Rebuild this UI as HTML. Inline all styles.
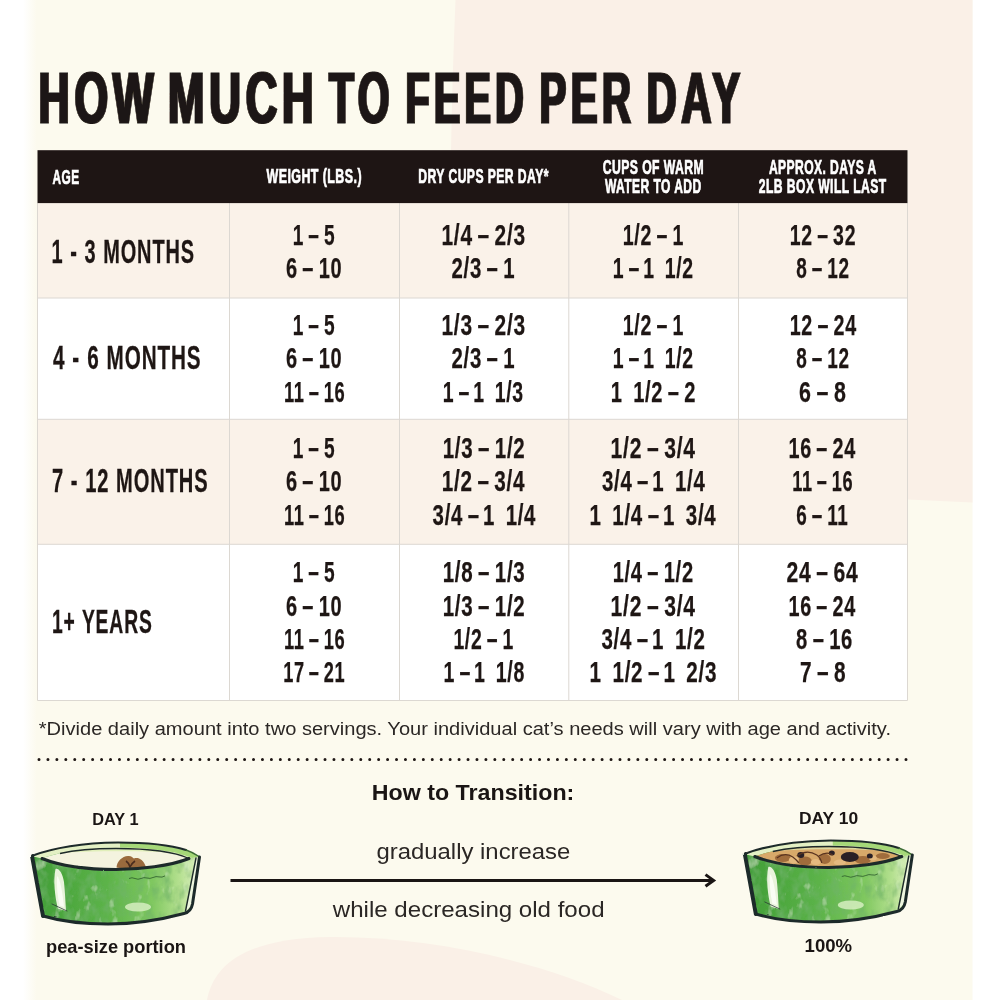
<!DOCTYPE html>
<html lang="en"><head><meta charset="utf-8"><title>How much to feed per day</title>
<style>html,body{margin:0;padding:0;background:#fff}body{width:1000px;height:1000px;overflow:hidden}svg{display:block}text{font-family:"Liberation Sans",sans-serif}</style>
</head><body>
<svg width="1000" height="1000" viewBox="0 0 1000 1000" role="img" aria-label="How much to feed per day feeding chart">
<defs>
<filter id="fat2" x="-5%" y="-10%" width="110%" height="120%"><feMorphology operator="dilate" radius="1 0"/></filter>
<filter id="fat0" x="-5%" y="-10%" width="110%" height="120%"><feOffset dx="0"/></filter>
<filter id="fat1" x="-5%" y="-10%" width="110%" height="120%"><feOffset dx="1" result="a"/><feMerge><feMergeNode in="a"/><feMergeNode in="SourceGraphic"/></feMerge></filter>
<linearGradient id="ledge" x1="0" x2="1" y1="0" y2="0"><stop offset="0" stop-color="#ffffff"/><stop offset="1" stop-color="#fcfaee"/></linearGradient>
</defs>
<!-- page background -->
<rect x="0" y="0" width="1000" height="1000" fill="#ffffff"/>
<rect x="36" y="0" width="936.5" height="1000" fill="#fcfaee"/>
<rect x="23" y="0" width="13.5" height="1000" fill="url(#ledge)"/>
<!-- pink blobs -->
<path d="M455.5,0 L972.5,0 L972.5,502.5 Q940,501 908,499.5 L908,150 L451,150 Q452.5,70 455.5,0 Z" fill="#faf0e7"/>
<path d="M207,1000 C214,962 250,938 330,937 C430,936 545,962 622,1000 Z" fill="#faf0e7"/>
<!-- table -->
<rect x="37.5" y="203" width="870" height="497.5" fill="#ffffff"/>
<rect x="37.5" y="203" width="870" height="95" fill="#faf2e9"/>
<rect x="37.5" y="419.3" width="870" height="124.9" fill="#faf2e9"/>
<g stroke="#dcd8d2" stroke-width="1" fill="none">
<path d="M37.5,203 V700.5 M229.5,203 V700.5 M399.5,203 V700.5 M568.8,203 V700.5 M738.5,203 V700.5 M907.5,203 V700.5"/>
<path d="M37.5,298 H907.5 M37.5,419.3 H907.5 M37.5,544.3 H907.5 M37.5,700.5 H907.5"/>
</g>
<rect x="37.5" y="150.2" width="870" height="52.9" fill="#1e1514"/>
<!-- dotted rule -->
<line x1="39" y1="759.4" x2="907" y2="759.4" stroke="#1e1614" stroke-width="3" stroke-linecap="round" stroke-dasharray="0 8.938"/>
<!-- arrow -->
<path d="M230.5,880.4 H713" stroke="#1a1514" stroke-width="3" fill="none"/>
<path d="M705.5,874.6 L713.6,880.4 L705.5,886.2" stroke="#1a1514" stroke-width="3" fill="none" stroke-linejoin="miter"/>

<text xml:space="preserve" x="38.50" y="122.80" font-family="Liberation Sans" font-weight="700" font-size="72.4" fill="#1e1614" letter-spacing="8" stroke="#1e1614" stroke-width="0.8" stroke-linejoin="miter" filter="url(#fat2)" textLength="119.92" lengthAdjust="spacingAndGlyphs">HOW</text>
<text xml:space="preserve" x="168.00" y="122.80" font-family="Liberation Sans" font-weight="700" font-size="72.4" fill="#1e1614" letter-spacing="8" stroke="#1e1614" stroke-width="0.8" stroke-linejoin="miter" filter="url(#fat2)" textLength="150.54" lengthAdjust="spacingAndGlyphs">MUCH</text>
<text xml:space="preserve" x="329.10" y="122.80" font-family="Liberation Sans" font-weight="700" font-size="72.4" fill="#1e1614" letter-spacing="8" stroke="#1e1614" stroke-width="0.8" stroke-linejoin="miter" filter="url(#fat2)" textLength="64.95" lengthAdjust="spacingAndGlyphs">TO</text>
<text xml:space="preserve" x="405.50" y="122.80" font-family="Liberation Sans" font-weight="700" font-size="72.4" fill="#1e1614" letter-spacing="8" stroke="#1e1614" stroke-width="0.8" stroke-linejoin="miter" filter="url(#fat2)" textLength="122.53" lengthAdjust="spacingAndGlyphs">FEED</text>
<text xml:space="preserve" x="539.50" y="122.80" font-family="Liberation Sans" font-weight="700" font-size="72.4" fill="#1e1614" letter-spacing="8" stroke="#1e1614" stroke-width="0.8" stroke-linejoin="miter" filter="url(#fat2)" textLength="95.85" lengthAdjust="spacingAndGlyphs">PER</text>
<text xml:space="preserve" x="646.50" y="122.80" font-family="Liberation Sans" font-weight="700" font-size="72.4" fill="#1e1614" letter-spacing="8" stroke="#1e1614" stroke-width="0.8" stroke-linejoin="miter" filter="url(#fat2)" textLength="98.18" lengthAdjust="spacingAndGlyphs">DAY</text>
<text xml:space="preserve" x="52.60" y="183.50" font-family="Liberation Sans" font-weight="700" font-size="19.9" fill="#ffffff" letter-spacing="0.7" stroke="#ffffff" stroke-width="0.7" stroke-linejoin="miter" filter="url(#fat0)" textLength="26.93" lengthAdjust="spacingAndGlyphs">AGE</text>
<text xml:space="preserve" x="266.50" y="183.40" font-family="Liberation Sans" font-weight="700" font-size="19.9" fill="#ffffff" letter-spacing="0.7" stroke="#ffffff" stroke-width="0.7" stroke-linejoin="miter" filter="url(#fat0)" textLength="95.46" lengthAdjust="spacingAndGlyphs">WEIGHT (LBS.)</text>
<text xml:space="preserve" x="418.30" y="183.40" font-family="Liberation Sans" font-weight="700" font-size="19.9" fill="#ffffff" letter-spacing="0.7" stroke="#ffffff" stroke-width="0.7" stroke-linejoin="miter" filter="url(#fat0)" textLength="130.59" lengthAdjust="spacingAndGlyphs">DRY CUPS PER DAY*</text>
<text xml:space="preserve" x="602.80" y="173.50" font-family="Liberation Sans" font-weight="700" font-size="19.9" fill="#ffffff" letter-spacing="0.7" stroke="#ffffff" stroke-width="0.7" stroke-linejoin="miter" filter="url(#fat0)" textLength="101.31" lengthAdjust="spacingAndGlyphs">CUPS OF WARM</text>
<text xml:space="preserve" x="604.90" y="192.70" font-family="Liberation Sans" font-weight="700" font-size="19.9" fill="#ffffff" letter-spacing="0.7" stroke="#ffffff" stroke-width="0.7" stroke-linejoin="miter" filter="url(#fat0)" textLength="96.67" lengthAdjust="spacingAndGlyphs">WATER TO ADD</text>
<text xml:space="preserve" x="768.90" y="173.50" font-family="Liberation Sans" font-weight="700" font-size="19.9" fill="#ffffff" letter-spacing="0.7" stroke="#ffffff" stroke-width="0.7" stroke-linejoin="miter" filter="url(#fat0)" textLength="107.88" lengthAdjust="spacingAndGlyphs">APPROX. DAYS A</text>
<text xml:space="preserve" x="758.80" y="192.70" font-family="Liberation Sans" font-weight="700" font-size="19.9" fill="#ffffff" letter-spacing="0.7" stroke="#ffffff" stroke-width="0.7" stroke-linejoin="miter" filter="url(#fat0)" textLength="127.81" lengthAdjust="spacingAndGlyphs">2LB BOX WILL LAST</text>
<text xml:space="preserve" x="51.50" y="262.50" font-family="Liberation Sans" font-weight="700" font-size="33.9" fill="#1e1614" letter-spacing="1.5" word-spacing="0.5" stroke="#1e1614" stroke-width="0.3" stroke-linejoin="miter" filter="url(#fat0)" textLength="143.46" lengthAdjust="spacingAndGlyphs">1 - 3 MONTHS</text>
<text xml:space="preserve" x="53.00" y="368.60" font-family="Liberation Sans" font-weight="700" font-size="33.9" fill="#1e1614" letter-spacing="1.5" word-spacing="0.5" stroke="#1e1614" stroke-width="0.3" stroke-linejoin="miter" filter="url(#fat0)" textLength="148.58" lengthAdjust="spacingAndGlyphs">4 - 6 MONTHS</text>
<text xml:space="preserve" x="52.00" y="491.60" font-family="Liberation Sans" font-weight="700" font-size="33.9" fill="#1e1614" letter-spacing="1.5" word-spacing="0.5" stroke="#1e1614" stroke-width="0.3" stroke-linejoin="miter" filter="url(#fat0)" textLength="156.54" lengthAdjust="spacingAndGlyphs">7 - 12 MONTHS</text>
<text xml:space="preserve" x="52.00" y="632.60" font-family="Liberation Sans" font-weight="700" font-size="33.9" fill="#1e1614" letter-spacing="1.5" word-spacing="0.5" stroke="#1e1614" stroke-width="0.3" stroke-linejoin="miter" filter="url(#fat0)" textLength="100.69" lengthAdjust="spacingAndGlyphs">1+ YEARS</text>
<text xml:space="preserve" x="292.75" y="245.00" font-family="Liberation Sans" font-weight="700" font-size="28.8" fill="#1e1614" letter-spacing="1" stroke="#1e1614" stroke-width="0.25" stroke-linejoin="miter" filter="url(#fat0)" dx="0 0 -2.5 0 -2.5" textLength="42.51" lengthAdjust="spacingAndGlyphs">1 – 5</text>
<text xml:space="preserve" x="286.00" y="278.00" font-family="Liberation Sans" font-weight="700" font-size="28.8" fill="#1e1614" letter-spacing="1" stroke="#1e1614" stroke-width="0.25" stroke-linejoin="miter" filter="url(#fat0)" dx="0 0 -2.5 0 -2.5 0" textLength="56.28" lengthAdjust="spacingAndGlyphs">6 – 10</text>
<text xml:space="preserve" x="292.75" y="335.00" font-family="Liberation Sans" font-weight="700" font-size="28.8" fill="#1e1614" letter-spacing="1" stroke="#1e1614" stroke-width="0.25" stroke-linejoin="miter" filter="url(#fat0)" dx="0 0 -2.5 0 -2.5" textLength="42.51" lengthAdjust="spacingAndGlyphs">1 – 5</text>
<text xml:space="preserve" x="286.00" y="368.00" font-family="Liberation Sans" font-weight="700" font-size="28.8" fill="#1e1614" letter-spacing="1" stroke="#1e1614" stroke-width="0.25" stroke-linejoin="miter" filter="url(#fat0)" dx="0 0 -2.5 0 -2.5 0" textLength="56.28" lengthAdjust="spacingAndGlyphs">6 – 10</text>
<text xml:space="preserve" x="284.00" y="401.50" font-family="Liberation Sans" font-weight="700" font-size="28.8" fill="#1e1614" letter-spacing="1" stroke="#1e1614" stroke-width="0.25" stroke-linejoin="miter" filter="url(#fat0)" dx="0 0 0 -2.5 0 -2.5 0" textLength="61.40" lengthAdjust="spacingAndGlyphs">11 – 16</text>
<text xml:space="preserve" x="292.75" y="457.50" font-family="Liberation Sans" font-weight="700" font-size="28.8" fill="#1e1614" letter-spacing="1" stroke="#1e1614" stroke-width="0.25" stroke-linejoin="miter" filter="url(#fat0)" dx="0 0 -2.5 0 -2.5" textLength="42.51" lengthAdjust="spacingAndGlyphs">1 – 5</text>
<text xml:space="preserve" x="286.00" y="491.00" font-family="Liberation Sans" font-weight="700" font-size="28.8" fill="#1e1614" letter-spacing="1" stroke="#1e1614" stroke-width="0.25" stroke-linejoin="miter" filter="url(#fat0)" dx="0 0 -2.5 0 -2.5 0" textLength="56.28" lengthAdjust="spacingAndGlyphs">6 – 10</text>
<text xml:space="preserve" x="284.00" y="525.00" font-family="Liberation Sans" font-weight="700" font-size="28.8" fill="#1e1614" letter-spacing="1" stroke="#1e1614" stroke-width="0.25" stroke-linejoin="miter" filter="url(#fat0)" dx="0 0 0 -2.5 0 -2.5 0" textLength="61.40" lengthAdjust="spacingAndGlyphs">11 – 16</text>
<text xml:space="preserve" x="292.75" y="582.00" font-family="Liberation Sans" font-weight="700" font-size="28.8" fill="#1e1614" letter-spacing="1" stroke="#1e1614" stroke-width="0.25" stroke-linejoin="miter" filter="url(#fat0)" dx="0 0 -2.5 0 -2.5" textLength="42.51" lengthAdjust="spacingAndGlyphs">1 – 5</text>
<text xml:space="preserve" x="286.00" y="615.50" font-family="Liberation Sans" font-weight="700" font-size="28.8" fill="#1e1614" letter-spacing="1" stroke="#1e1614" stroke-width="0.25" stroke-linejoin="miter" filter="url(#fat0)" dx="0 0 -2.5 0 -2.5 0" textLength="56.28" lengthAdjust="spacingAndGlyphs">6 – 10</text>
<text xml:space="preserve" x="284.00" y="648.75" font-family="Liberation Sans" font-weight="700" font-size="28.8" fill="#1e1614" letter-spacing="1" stroke="#1e1614" stroke-width="0.25" stroke-linejoin="miter" filter="url(#fat0)" dx="0 0 0 -2.5 0 -2.5 0" textLength="61.40" lengthAdjust="spacingAndGlyphs">11 – 16</text>
<text xml:space="preserve" x="283.25" y="682.00" font-family="Liberation Sans" font-weight="700" font-size="28.8" fill="#1e1614" letter-spacing="1" stroke="#1e1614" stroke-width="0.25" stroke-linejoin="miter" filter="url(#fat0)" dx="0 0 0 -2.5 0 -2.5 0" textLength="61.97" lengthAdjust="spacingAndGlyphs">17 – 21</text>
<text xml:space="preserve" x="441.50" y="245.00" font-family="Liberation Sans" font-weight="700" font-size="28.8" fill="#1e1614" letter-spacing="1" stroke="#1e1614" stroke-width="0.25" stroke-linejoin="miter" filter="url(#fat0)" dx="0 0 0 0 -2.5 0 -2.5 0 0" textLength="84.39" lengthAdjust="spacingAndGlyphs">1/4 – 2/3</text>
<text xml:space="preserve" x="451.50" y="278.00" font-family="Liberation Sans" font-weight="700" font-size="28.8" fill="#1e1614" letter-spacing="1" stroke="#1e1614" stroke-width="0.25" stroke-linejoin="miter" filter="url(#fat0)" dx="0 0 0 0 -2.5 0 -2.5" textLength="63.67" lengthAdjust="spacingAndGlyphs">2/3 – 1</text>
<text xml:space="preserve" x="441.50" y="335.00" font-family="Liberation Sans" font-weight="700" font-size="28.8" fill="#1e1614" letter-spacing="1" stroke="#1e1614" stroke-width="0.25" stroke-linejoin="miter" filter="url(#fat0)" dx="0 0 0 0 -2.5 0 -2.5 0 0" textLength="84.39" lengthAdjust="spacingAndGlyphs">1/3 – 2/3</text>
<text xml:space="preserve" x="451.50" y="368.00" font-family="Liberation Sans" font-weight="700" font-size="28.8" fill="#1e1614" letter-spacing="1" stroke="#1e1614" stroke-width="0.25" stroke-linejoin="miter" filter="url(#fat0)" dx="0 0 0 0 -2.5 0 -2.5" textLength="63.67" lengthAdjust="spacingAndGlyphs">2/3 – 1</text>
<text xml:space="preserve" x="442.75" y="401.50" font-family="Liberation Sans" font-weight="700" font-size="28.8" fill="#1e1614" letter-spacing="1" stroke="#1e1614" stroke-width="0.25" stroke-linejoin="miter" filter="url(#fat0)" dx="0 0 -2.5 0 -4.5 0 6 0 0" textLength="81.02" lengthAdjust="spacingAndGlyphs">1 – 1 1/3</text>
<text xml:space="preserve" x="442.70" y="457.50" font-family="Liberation Sans" font-weight="700" font-size="28.8" fill="#1e1614" letter-spacing="1" stroke="#1e1614" stroke-width="0.25" stroke-linejoin="miter" filter="url(#fat0)" dx="0 0 0 0 -2.5 0 -2.5 0 0" textLength="82.73" lengthAdjust="spacingAndGlyphs">1/3 – 1/2</text>
<text xml:space="preserve" x="441.80" y="491.00" font-family="Liberation Sans" font-weight="700" font-size="28.8" fill="#1e1614" letter-spacing="1" stroke="#1e1614" stroke-width="0.25" stroke-linejoin="miter" filter="url(#fat0)" dx="0 0 0 0 -2.5 0 -2.5 0 0" textLength="83.47" lengthAdjust="spacingAndGlyphs">1/2 – 3/4</text>
<text xml:space="preserve" x="432.60" y="525.00" font-family="Liberation Sans" font-weight="700" font-size="28.8" fill="#1e1614" letter-spacing="1" stroke="#1e1614" stroke-width="0.25" stroke-linejoin="miter" filter="url(#fat0)" dx="0 0 0 0 -2.5 0 -4.5 0 6 0 0" textLength="103.54" lengthAdjust="spacingAndGlyphs">3/4 – 1 1/4</text>
<text xml:space="preserve" x="442.70" y="582.00" font-family="Liberation Sans" font-weight="700" font-size="28.8" fill="#1e1614" letter-spacing="1" stroke="#1e1614" stroke-width="0.25" stroke-linejoin="miter" filter="url(#fat0)" dx="0 0 0 0 -2.5 0 -2.5 0 0" textLength="82.73" lengthAdjust="spacingAndGlyphs">1/8 – 1/3</text>
<text xml:space="preserve" x="442.70" y="615.50" font-family="Liberation Sans" font-weight="700" font-size="28.8" fill="#1e1614" letter-spacing="1" stroke="#1e1614" stroke-width="0.25" stroke-linejoin="miter" filter="url(#fat0)" dx="0 0 0 0 -2.5 0 -2.5 0 0" textLength="82.73" lengthAdjust="spacingAndGlyphs">1/3 – 1/2</text>
<text xml:space="preserve" x="453.40" y="648.75" font-family="Liberation Sans" font-weight="700" font-size="28.8" fill="#1e1614" letter-spacing="1" stroke="#1e1614" stroke-width="0.25" stroke-linejoin="miter" filter="url(#fat0)" dx="0 0 0 0 -2.5 0 -2.5" textLength="60.68" lengthAdjust="spacingAndGlyphs">1/2 – 1</text>
<text xml:space="preserve" x="443.50" y="682.00" font-family="Liberation Sans" font-weight="700" font-size="28.8" fill="#1e1614" letter-spacing="1" stroke="#1e1614" stroke-width="0.25" stroke-linejoin="miter" filter="url(#fat0)" dx="0 0 -2.5 0 -4.5 0 6 0 0" textLength="81.49" lengthAdjust="spacingAndGlyphs">1 – 1 1/8</text>
<text xml:space="preserve" x="622.75" y="245.00" font-family="Liberation Sans" font-weight="700" font-size="28.8" fill="#1e1614" letter-spacing="1" stroke="#1e1614" stroke-width="0.25" stroke-linejoin="miter" filter="url(#fat0)" dx="0 0 0 0 -2.5 0 -2.5" textLength="61.26" lengthAdjust="spacingAndGlyphs">1/2 – 1</text>
<text xml:space="preserve" x="612.75" y="278.00" font-family="Liberation Sans" font-weight="700" font-size="28.8" fill="#1e1614" letter-spacing="1" stroke="#1e1614" stroke-width="0.25" stroke-linejoin="miter" filter="url(#fat0)" dx="0 0 -2.5 0 -4.5 0 6 0 0" textLength="81.02" lengthAdjust="spacingAndGlyphs">1 – 1 1/2</text>
<text xml:space="preserve" x="622.75" y="335.00" font-family="Liberation Sans" font-weight="700" font-size="28.8" fill="#1e1614" letter-spacing="1" stroke="#1e1614" stroke-width="0.25" stroke-linejoin="miter" filter="url(#fat0)" dx="0 0 0 0 -2.5 0 -2.5" textLength="61.26" lengthAdjust="spacingAndGlyphs">1/2 – 1</text>
<text xml:space="preserve" x="612.75" y="368.00" font-family="Liberation Sans" font-weight="700" font-size="28.8" fill="#1e1614" letter-spacing="1" stroke="#1e1614" stroke-width="0.25" stroke-linejoin="miter" filter="url(#fat0)" dx="0 0 -2.5 0 -4.5 0 6 0 0" textLength="81.02" lengthAdjust="spacingAndGlyphs">1 – 1 1/2</text>
<text xml:space="preserve" x="610.75" y="401.50" font-family="Liberation Sans" font-weight="700" font-size="28.8" fill="#1e1614" letter-spacing="1" stroke="#1e1614" stroke-width="0.25" stroke-linejoin="miter" filter="url(#fat0)" dx="0 0 6 0 0 0 -2.5 0 -2.5" textLength="85.42" lengthAdjust="spacingAndGlyphs">1 1/2 – 2</text>
<text xml:space="preserve" x="610.60" y="457.50" font-family="Liberation Sans" font-weight="700" font-size="28.8" fill="#1e1614" letter-spacing="1" stroke="#1e1614" stroke-width="0.25" stroke-linejoin="miter" filter="url(#fat0)" dx="0 0 0 0 -2.5 0 -2.5 0 0" textLength="85.11" lengthAdjust="spacingAndGlyphs">1/2 – 3/4</text>
<text xml:space="preserve" x="602.00" y="491.00" font-family="Liberation Sans" font-weight="700" font-size="28.8" fill="#1e1614" letter-spacing="1" stroke="#1e1614" stroke-width="0.25" stroke-linejoin="miter" filter="url(#fat0)" dx="0 0 0 0 -2.5 0 -4.5 0 6 0 0" textLength="103.54" lengthAdjust="spacingAndGlyphs">3/4 – 1 1/4</text>
<text xml:space="preserve" x="589.50" y="525.00" font-family="Liberation Sans" font-weight="700" font-size="28.8" fill="#1e1614" letter-spacing="1" stroke="#1e1614" stroke-width="0.25" stroke-linejoin="miter" filter="url(#fat0)" dx="0 0 6 0 0 0 -2.5 0 -4.5 0 6 0 0" textLength="126.95" lengthAdjust="spacingAndGlyphs">1 1/4 – 1 3/4</text>
<text xml:space="preserve" x="612.70" y="582.00" font-family="Liberation Sans" font-weight="700" font-size="28.8" fill="#1e1614" letter-spacing="1" stroke="#1e1614" stroke-width="0.25" stroke-linejoin="miter" filter="url(#fat0)" dx="0 0 0 0 -2.5 0 -2.5 0 0" textLength="81.08" lengthAdjust="spacingAndGlyphs">1/4 – 1/2</text>
<text xml:space="preserve" x="610.60" y="615.50" font-family="Liberation Sans" font-weight="700" font-size="28.8" fill="#1e1614" letter-spacing="1" stroke="#1e1614" stroke-width="0.25" stroke-linejoin="miter" filter="url(#fat0)" dx="0 0 0 0 -2.5 0 -2.5 0 0" textLength="85.11" lengthAdjust="spacingAndGlyphs">1/2 – 3/4</text>
<text xml:space="preserve" x="601.50" y="648.75" font-family="Liberation Sans" font-weight="700" font-size="28.8" fill="#1e1614" letter-spacing="1" stroke="#1e1614" stroke-width="0.25" stroke-linejoin="miter" filter="url(#fat0)" dx="0 0 0 0 -2.5 0 -4.5 0 6 0 0" textLength="104.06" lengthAdjust="spacingAndGlyphs">3/4 – 1 1/2</text>
<text xml:space="preserve" x="589.50" y="682.00" font-family="Liberation Sans" font-weight="700" font-size="28.8" fill="#1e1614" letter-spacing="1" stroke="#1e1614" stroke-width="0.25" stroke-linejoin="miter" filter="url(#fat0)" dx="0 0 6 0 0 0 -2.5 0 -4.5 0 6 0 0" textLength="127.70" lengthAdjust="spacingAndGlyphs">1 1/2 – 1 2/3</text>
<text xml:space="preserve" x="789.75" y="245.00" font-family="Liberation Sans" font-weight="700" font-size="28.8" fill="#1e1614" letter-spacing="1" stroke="#1e1614" stroke-width="0.25" stroke-linejoin="miter" filter="url(#fat0)" dx="0 0 0 -2.5 0 -2.5 0" textLength="66.40" lengthAdjust="spacingAndGlyphs">12 – 32</text>
<text xml:space="preserve" x="796.25" y="278.00" font-family="Liberation Sans" font-weight="700" font-size="28.8" fill="#1e1614" letter-spacing="1" stroke="#1e1614" stroke-width="0.25" stroke-linejoin="miter" filter="url(#fat0)" dx="0 0 -2.5 0 -2.5 0" textLength="53.43" lengthAdjust="spacingAndGlyphs">8 – 12</text>
<text xml:space="preserve" x="789.75" y="335.00" font-family="Liberation Sans" font-weight="700" font-size="28.8" fill="#1e1614" letter-spacing="1" stroke="#1e1614" stroke-width="0.25" stroke-linejoin="miter" filter="url(#fat0)" dx="0 0 0 -2.5 0 -2.5 0" textLength="67.02" lengthAdjust="spacingAndGlyphs">12 – 24</text>
<text xml:space="preserve" x="796.25" y="368.00" font-family="Liberation Sans" font-weight="700" font-size="28.8" fill="#1e1614" letter-spacing="1" stroke="#1e1614" stroke-width="0.25" stroke-linejoin="miter" filter="url(#fat0)" dx="0 0 -2.5 0 -2.5 0" textLength="53.43" lengthAdjust="spacingAndGlyphs">8 – 12</text>
<text xml:space="preserve" x="799.00" y="401.50" font-family="Liberation Sans" font-weight="700" font-size="28.8" fill="#1e1614" letter-spacing="1" stroke="#1e1614" stroke-width="0.25" stroke-linejoin="miter" filter="url(#fat0)" dx="0 0 -2.5 0 -2.5" textLength="47.63" lengthAdjust="spacingAndGlyphs">6 – 8</text>
<text xml:space="preserve" x="788.50" y="457.50" font-family="Liberation Sans" font-weight="700" font-size="28.8" fill="#1e1614" letter-spacing="1" stroke="#1e1614" stroke-width="0.25" stroke-linejoin="miter" filter="url(#fat0)" dx="0 0 0 -2.5 0 -2.5 0" textLength="67.44" lengthAdjust="spacingAndGlyphs">16 – 24</text>
<text xml:space="preserve" x="792.20" y="491.00" font-family="Liberation Sans" font-weight="700" font-size="28.8" fill="#1e1614" letter-spacing="1" stroke="#1e1614" stroke-width="0.25" stroke-linejoin="miter" filter="url(#fat0)" dx="0 0 0 -2.5 0 -2.5 0" textLength="60.93" lengthAdjust="spacingAndGlyphs">11 – 16</text>
<text xml:space="preserve" x="796.30" y="525.00" font-family="Liberation Sans" font-weight="700" font-size="28.8" fill="#1e1614" letter-spacing="1" stroke="#1e1614" stroke-width="0.25" stroke-linejoin="miter" filter="url(#fat0)" dx="0 0 -2.5 0 -2.5 0" textLength="52.16" lengthAdjust="spacingAndGlyphs">6 – 11</text>
<text xml:space="preserve" x="786.40" y="582.00" font-family="Liberation Sans" font-weight="700" font-size="28.8" fill="#1e1614" letter-spacing="1" stroke="#1e1614" stroke-width="0.25" stroke-linejoin="miter" filter="url(#fat0)" dx="0 0 0 -2.5 0 -2.5 0" textLength="72.08" lengthAdjust="spacingAndGlyphs">24 – 64</text>
<text xml:space="preserve" x="788.50" y="615.50" font-family="Liberation Sans" font-weight="700" font-size="28.8" fill="#1e1614" letter-spacing="1" stroke="#1e1614" stroke-width="0.25" stroke-linejoin="miter" filter="url(#fat0)" dx="0 0 0 -2.5 0 -2.5 0" textLength="67.44" lengthAdjust="spacingAndGlyphs">16 – 24</text>
<text xml:space="preserve" x="796.10" y="648.75" font-family="Liberation Sans" font-weight="700" font-size="28.8" fill="#1e1614" letter-spacing="1" stroke="#1e1614" stroke-width="0.25" stroke-linejoin="miter" filter="url(#fat0)" dx="0 0 -2.5 0 -2.5 0" textLength="56.95" lengthAdjust="spacingAndGlyphs">8 – 16</text>
<text xml:space="preserve" x="800.00" y="682.00" font-family="Liberation Sans" font-weight="700" font-size="28.8" fill="#1e1614" letter-spacing="1" stroke="#1e1614" stroke-width="0.25" stroke-linejoin="miter" filter="url(#fat0)" dx="0 0 -2.5 0 -2.5" textLength="46.37" lengthAdjust="spacingAndGlyphs">7 – 8</text>
<text xml:space="preserve" x="38.75" y="734.50" font-family="Liberation Sans" font-weight="400" font-size="18.9" fill="#2b2725" filter="url(#fat0)" textLength="852.23" lengthAdjust="spacingAndGlyphs">*Divide daily amount into two servings. Your individual cat’s needs will vary with age and activity.</text>
<text xml:space="preserve" x="371.75" y="800.00" font-family="Liberation Sans" font-weight="700" font-size="21.8" fill="#1a1514" filter="url(#fat0)" textLength="202.57" lengthAdjust="spacingAndGlyphs">How to Transition:</text>
<text xml:space="preserve" x="376.50" y="858.75" font-family="Liberation Sans" font-weight="400" font-size="22.3" fill="#2b2725" filter="url(#fat0)" textLength="193.86" lengthAdjust="spacingAndGlyphs">gradually increase</text>
<text xml:space="preserve" x="332.80" y="917.20" font-family="Liberation Sans" font-weight="400" font-size="22.3" fill="#2b2725" filter="url(#fat0)" textLength="271.75" lengthAdjust="spacingAndGlyphs">while decreasing old food</text>
<text xml:space="preserve" x="92.25" y="824.50" font-family="Liberation Sans" font-weight="700" font-size="16.6" fill="#1a1514" filter="url(#fat0)" textLength="46.31" lengthAdjust="spacingAndGlyphs">DAY 1</text>
<text xml:space="preserve" x="799.00" y="824.40" font-family="Liberation Sans" font-weight="700" font-size="16.6" fill="#1a1514" filter="url(#fat0)" textLength="59.15" lengthAdjust="spacingAndGlyphs">DAY 10</text>
<text xml:space="preserve" x="46.00" y="952.50" font-family="Liberation Sans" font-weight="700" font-size="18.2" fill="#1a1514" filter="url(#fat0)" textLength="139.96" lengthAdjust="spacingAndGlyphs">pea-size portion</text>
<text xml:space="preserve" x="804.60" y="952.00" font-family="Liberation Sans" font-weight="700" font-size="18.2" fill="#1a1514" filter="url(#fat0)" textLength="47.57" lengthAdjust="spacingAndGlyphs">100%</text>
<defs>
<linearGradient id="bg1" x1="0" x2="1" y1="0" y2="0">
<stop offset="0" stop-color="#3f9a38"/><stop offset="0.10" stop-color="#46a23a"/><stop offset="0.45" stop-color="#5cb349"/><stop offset="0.72" stop-color="#80c860"/><stop offset="0.88" stop-color="#b4e08f"/><stop offset="1" stop-color="#dff0c4"/>
</linearGradient>
<filter id="wc" x="-5%" y="-10%" width="110%" height="120%">
<feTurbulence type="fractalNoise" baseFrequency="0.11 0.07" numOctaves="3" seed="11" result="n"/>
<feColorMatrix in="n" type="matrix" values="0 0 0 0 0.16  0 0 0 0 0.45  0 0 0 0 0.14  1.6 0 0 0 -0.62" result="d"/>
<feColorMatrix in="n" type="matrix" values="0 0 0 0 0.8  0 0 0 0 0.95  0 0 0 0 0.7  0 -1.4 0 0 0.52" result="l"/>
<feComposite in="d" in2="SourceAlpha" operator="in" result="dd"/>
<feComposite in="l" in2="SourceAlpha" operator="in" result="ll"/>
<feMerge><feMergeNode in="SourceGraphic"/><feMergeNode in="dd"/><feMergeNode in="ll"/></feMerge>
</filter>
<filter id="rough" x="-5%" y="-10%" width="110%" height="120%">
<feTurbulence type="fractalNoise" baseFrequency="0.08" numOctaves="2" seed="3" result="n"/>
<feDisplacementMap in="SourceGraphic" in2="n" scale="1.6" xChannelSelector="R" yChannelSelector="G"/>
</filter>
<g id="bowlbody">
<!-- outer body -->
<path d="M31,856 C50,849 80,843 118,842.5 C160,842.5 188,849 199.5,856.5 L192.5,904 Q191,912 184,913.5 C160,920 130,924 108,924 C85,924 60,921 43,916 Z" fill="url(#bg1)" filter="url(#wc)"/>
<!-- rim band (back) lighter -->
<path d="M31,856 C50,849 80,843 118,842.5 C160,842.5 188,849 199.5,856.5 L189,858.5 C175,852 150,848.5 116,848.5 C85,848.5 58,852 42,858.5 Z" fill="#e3f0c4"/>
<path d="M120,843 C160,843 188,849 199,856.5 L192,858 C175,851 150,848 120,847.5 Z" fill="#a5d878"/>
<!-- light blotch -->
<ellipse cx="138" cy="907" rx="13" ry="4.5" fill="#d6efc0" opacity="0.85"/>
<!-- white stripe -->
<path d="M55.5,869 C58,867.5 62.5,872 64,882 C65,892 65.5,902 66,911 L58,908.5 C55,898 53,880 55.5,869 Z" fill="#e9f3dc"/>
<path d="M57,876 C60,878 62.5,892 64,907 L59.5,905.5 C57.5,896 56.5,886 57,876 Z" fill="#fafdf4"/>
<!-- right light band -->
<path d="M196.5,858 L199,857 L192,905 L186,911 Z" fill="#eef6df"/>
<!-- squiggle -->
<path d="M129,878.5 q3,-1.5 6,0 t6,0 t6,-0.5 t6,-0.5 t6,-0.6 t6,-1" stroke="#2c5a2a" stroke-width="1" fill="none" opacity="0.8"/>
</g>
<g id="bowllines" fill="none" stroke="#1f2a2a" stroke-linecap="round" stroke-linejoin="round" filter="url(#rough)">
<path d="M32,856 L43,916" stroke-width="4"/>
<path d="M31.5,856 C50,849 80,843 118,842.5 C150,842.5 172,845.5 186,850" stroke-width="2.2"/>
<path d="M186,850 C192,852 196,854.5 199,856.5" stroke-width="1.4" stroke="#3c6b35"/>
<path d="M199.5,857 L192.5,904 Q191,912 184,913.5 C160,920 130,924 108,924 C85,924 60,921 43,916" stroke-width="3"/>
<path d="M196,858 L185.5,911" stroke-width="1.4"/>
<path d="M52,904 L67,911" stroke-width="1" opacity="0.7"/>
</g>
</defs>

<!-- bowl 1 -->
<g>
<use href="#bowlbody"/>
<path d="M42,858.5 C58,852 85,848.5 116,848.5 C150,848.5 175,852 189,858.5 C170,866 140,869.5 116,869.5 C90,869.5 62,866.5 42,858.5 Z" fill="#f4f3df"/>
<path d="M60,853 C80,848.5 150,847.5 178,853 C150,850.5 90,850.5 60,853 Z" fill="#e1efba"/>
<path d="M116.5,867.5 C117,861 122,856.5 128,856 C131,855.5 133,858 134,858.5 C138,857 143,859 146,867 C138,869 125,869.5 116.5,867.5 Z" fill="#9a6a3d"/>
<path d="M126,861 q3,2 4,6 q2,-4 5,-6" stroke="#4a2c1e" stroke-width="1.6" fill="none"/>
<g filter="url(#rough)">
<path d="M60,853.5 C75,850 95,848.5 116,848.5 C150,848.5 175,852 189,858.5" fill="none" stroke="#1f2a2a" stroke-width="1.3"/>
<path d="M42,858.5 C62,866.5 90,869.5 116,869.5 C140,869.5 170,866 189,858.5" fill="none" stroke="#1f2a2a" stroke-width="3" stroke-linecap="round"/>
</g>
<use href="#bowllines"/>
</g>

<!-- bowl 2 -->
<g transform="translate(712.8,-2)">
<use href="#bowlbody"/>
<path d="M42,858.5 C58,852 85,848.5 116,848.5 C150,848.5 175,852 189,858.5 C170,866 140,869.5 116,869.5 C90,869.5 62,866.5 42,858.5 Z" fill="#d8a96a"/>
<path d="M60,853 C80,848.5 150,847.5 178,853 C150,850.5 90,850.5 60,853 Z" fill="#dcd9a0"/>
<g fill="#a06c3c">
<ellipse cx="70" cy="860" rx="8" ry="4"/><ellipse cx="92" cy="863" rx="7" ry="4.5"/><ellipse cx="112" cy="861" rx="6" ry="5"/><ellipse cx="150" cy="862" rx="8" ry="4"/><ellipse cx="170" cy="858" rx="7" ry="3"/>
</g>
<g fill="#e4b97f">
<ellipse cx="81" cy="862" rx="5" ry="3.5"/><ellipse cx="103" cy="864" rx="5" ry="3"/><ellipse cx="127" cy="864.5" rx="6" ry="3"/><ellipse cx="160" cy="860" rx="4" ry="2.5"/>
</g>
<g fill="#2a2026">
<ellipse cx="137" cy="859" rx="9" ry="5"/><ellipse cx="88" cy="857" rx="3.5" ry="3"/><ellipse cx="119" cy="855" rx="3" ry="2.5"/><ellipse cx="157" cy="858" rx="3" ry="2.5"/>
</g>
<path d="M64,860 q8,-6 16,-1 q4,3 6,6 M84,858 q10,-7 20,-1 q4,3 5,8 M106,858 q8,-5 14,-1" stroke="#5a3420" stroke-width="1.2" fill="none"/>
<g filter="url(#rough)">
<path d="M60,853.5 C75,850 95,848.5 116,848.5 C150,848.5 175,852 189,858.5" fill="none" stroke="#1f2a2a" stroke-width="1.3"/>
<path d="M42,858.5 C62,866.5 90,869.5 116,869.5 C140,869.5 170,866 189,858.5" fill="none" stroke="#1f2a2a" stroke-width="3" stroke-linecap="round"/>
</g>
<use href="#bowllines"/>
</g>

</svg>
</body></html>
